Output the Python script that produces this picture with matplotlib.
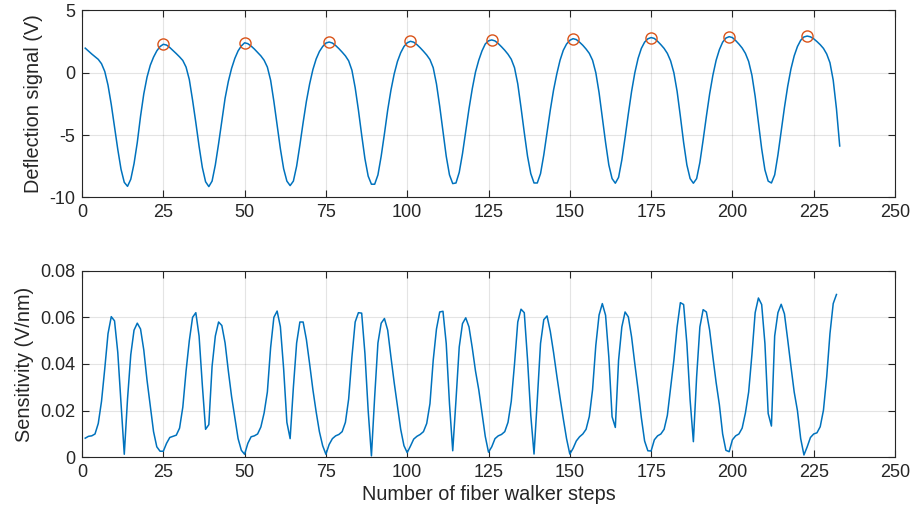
import numpy as np
import matplotlib
matplotlib.use("Agg")
import matplotlib.pyplot as plt

# ---------------- data ----------------
deflection = [
    1.97, 1.73, 1.50, 1.28, 1.07, 0.72, 0.10, -1.00, -2.55, -4.35,
    -6.15, -7.75, -8.80, -9.12, -8.55, -7.30, -5.60, -3.50, -1.70, -0.35,
    0.60, 1.25, 1.75, 2.10, 2.28,
    2.22, 2.02, 1.78, 1.53, 1.27, 0.98, 0.45, -0.55, -2.20, -4.00,
    -5.90, -7.60, -8.75, -9.14, -8.70, -7.40, -5.70, -3.85, -2.05, -0.70,
    0.35, 1.15, 1.75, 2.15, 2.40,
    2.33, 2.14, 1.90, 1.63, 1.35, 1.00, 0.45, -0.60, -2.30, -4.20,
    -6.10, -7.70, -8.70, -9.06, -8.70, -7.50, -5.80, -4.00, -2.30, -0.90,
    0.25, 1.10, 1.70, 2.10, 2.38, 2.46,
    2.38, 2.18, 1.93, 1.65, 1.35, 0.95, 0.20, -1.20, -3.00, -5.00,
    -6.90, -8.30, -8.95, -8.95, -8.20, -6.70, -4.90, -3.00, -1.40, -0.10,
    0.90, 1.60, 2.10, 2.40, 2.52,
    2.45, 2.25, 2.00, 1.72, 1.42, 1.05, 0.40, -0.90, -2.70, -4.70,
    -6.70, -8.20, -8.90, -8.85, -8.00, -6.50, -4.70, -2.90, -1.30, 0.05,
    1.00, 1.75, 2.30, 2.56, 2.63,
    2.55, 2.34, 2.08, 1.80, 1.48, 1.08, 0.40, -0.90, -2.80, -4.80,
    -6.70, -8.10, -8.85, -8.85, -8.10, -6.60, -4.80, -3.00, -1.40, -0.10,
    1.00, 1.80, 2.30, 2.60, 2.73,
    2.66, 2.45, 2.20, 1.90, 1.55, 1.00, 0.00, -1.60, -3.60, -5.60,
    -7.40, -8.50, -8.87, -8.40, -7.00, -5.20, -3.30, -1.50, 0.00, 1.15,
    1.95, 2.45, 2.72, 2.82,
    2.75, 2.52, 2.25, 1.95, 1.55, 0.95, 0.00, -1.50, -3.50, -5.60,
    -7.40, -8.50, -8.87, -8.50, -7.20, -5.40, -3.50, -1.70, -0.20, 1.00,
    1.85, 2.45, 2.78, 2.89,
    2.82, 2.58, 2.30, 1.98, 1.55, 0.90, -0.20, -1.90, -4.00, -6.10,
    -7.80, -8.70, -8.85, -8.20, -6.60, -4.70, -2.80, -1.10, 0.30, 1.35,
    2.10, 2.60, 2.87, 2.94,
    2.88, 2.72, 2.50, 2.25, 1.95, 1.50, 0.80, -0.60, -2.90, -5.88,
]

peak_steps = [25, 50, 76, 101, 126, 151, 175, 199, 223]
peak_values = [2.30, 2.41, 2.46, 2.52, 2.62, 2.73, 2.81, 2.89, 2.94]

sensitivity = [
    0.0082, 0.0090, 0.0092, 0.0100, 0.0145, 0.0240, 0.0380, 0.0530, 0.0603, 0.0585,
    0.0450, 0.0230, 0.0013, 0.0250, 0.0440, 0.0545, 0.0575, 0.0550, 0.0460, 0.0330,
    0.0220, 0.0110, 0.0045, 0.0026, 0.0026,
    0.0060, 0.0085, 0.0090, 0.0095, 0.0125, 0.0215, 0.0370, 0.0500, 0.0600, 0.0620,
    0.0520, 0.0310, 0.0120, 0.0140, 0.0390, 0.0520, 0.0580, 0.0565, 0.0490, 0.0370,
    0.0260, 0.0170, 0.0080, 0.0030, 0.0013,
    0.0060, 0.0088, 0.0092, 0.0100, 0.0130, 0.0190, 0.0280, 0.0470, 0.0600, 0.0627,
    0.0560, 0.0380, 0.0150, 0.0080, 0.0300, 0.0490, 0.0580, 0.0580, 0.0505, 0.0400,
    0.0290, 0.0195, 0.0110, 0.0050, 0.0013,
    0.0055, 0.0080, 0.0092, 0.0098, 0.0110, 0.0150, 0.0250, 0.0430, 0.0580, 0.0620,
    0.0618, 0.0445, 0.0200, 0.0006, 0.0260, 0.0490, 0.0575, 0.0595, 0.0545, 0.0430,
    0.0320, 0.0220, 0.0120, 0.0050, 0.0020,
    0.0048, 0.0078, 0.0090, 0.0098, 0.0110, 0.0145, 0.0230, 0.0416, 0.0550, 0.0623,
    0.0626, 0.0488, 0.0230, 0.0028, 0.0245, 0.0473, 0.0573, 0.0598, 0.0559, 0.0470,
    0.0370, 0.0290, 0.0190, 0.0090, 0.0022,
    0.0045, 0.0080, 0.0092, 0.0098, 0.0110, 0.0150, 0.0240, 0.0400, 0.0580, 0.0635,
    0.0620, 0.0420, 0.0180, 0.0014, 0.0245, 0.0488, 0.0590, 0.0606, 0.0540, 0.0450,
    0.0350, 0.0255, 0.0165, 0.0080, 0.0014,
    0.0038, 0.0070, 0.0088, 0.0100, 0.0120, 0.0175, 0.0290, 0.0480, 0.0610, 0.0659,
    0.0609, 0.0430, 0.0174, 0.0128, 0.0416, 0.0559, 0.0623, 0.0602, 0.0516, 0.0400,
    0.0290, 0.0170, 0.0070, 0.0028, 0.0027,
    0.0075, 0.0092, 0.0100, 0.0120, 0.0180, 0.0300, 0.0416, 0.0559, 0.0663, 0.0655,
    0.0488, 0.0245, 0.0067, 0.0345, 0.0559, 0.0633, 0.0623, 0.0545, 0.0430, 0.0320,
    0.0225, 0.0100, 0.0030, 0.0024,
    0.0075, 0.0092, 0.0100, 0.0125, 0.0190, 0.0280, 0.0440, 0.0620, 0.0683, 0.0655,
    0.0488, 0.0188, 0.0134, 0.0520, 0.0620, 0.0656, 0.0615, 0.0505, 0.0390, 0.0280,
    0.0200, 0.0080, 0.0010, 0.0045,
    0.0085, 0.0100, 0.0105, 0.0131, 0.0202, 0.0345, 0.0530, 0.0659, 0.0698,
]

steps_defl = np.arange(1, len(deflection) + 1)
steps_sens = np.arange(1, len(sensitivity) + 1)

# ---------------- style ----------------
plt.rcParams['font.family'] = ['Liberation Sans', 'DejaVu Sans']
plt.rcParams['axes.unicode_minus'] = False
dark = '#262626'
blue = '#0072BD'
orange = '#D95319'

fig = plt.figure(figsize=(9.13, 5.21), dpi=100)
ax1 = fig.add_axes([82 / 913, 1 - 197.3 / 521, (895 - 82) / 913, (197.3 - 10.4) / 521])
ax2 = fig.add_axes([82 / 913, 1 - 457.3 / 521, (895 - 82) / 913, (457.3 - 270.7) / 521])


def style(ax):
    ax.grid(True, color='#262626', alpha=0.12, linewidth=0.8)
    ax.set_axisbelow(True)
    for s in ax.spines.values():
        s.set_color(dark)
        s.set_linewidth(0.8)
    ax.tick_params(direction='in', length=5, width=0.8, colors=dark,
                   labelsize=13, top=True, right=True, pad=5)
    ax.set_xlim(0, 250)
    ax.set_xticks([0, 25, 50, 75, 100, 125, 150, 175, 200, 225, 250])


ax1.plot(steps_defl, deflection, color=blue, linewidth=1.1)
ax1.plot(peak_steps, peak_values, linestyle='none', marker='o', markersize=8,
         markerfacecolor='none', markeredgecolor=orange, markeredgewidth=1.0)
style(ax1)
ax1.set_ylim(-10, 5)
ax1.set_yticks([-10, -5, 0, 5])
ax1.set_ylabel('Deflection signal (V)', fontsize=14.3, color=dark, labelpad=4)

ax2.plot(steps_sens, sensitivity, color=blue, linewidth=1.1)
style(ax2)
ax2.set_ylim(0, 0.08)
ax2.set_yticks([0, 0.02, 0.04, 0.06, 0.08])
ax2.set_yticklabels(['0', '0.02', '0.04', '0.06', '0.08'])
ax2.set_ylabel('Sensitivity (V/nm)', fontsize=14.3, color=dark, labelpad=4)
ax2.set_xlabel('Number of fiber walker steps', fontsize=14.3, color=dark, labelpad=3)

fig.savefig('out.png', dpi=100)
